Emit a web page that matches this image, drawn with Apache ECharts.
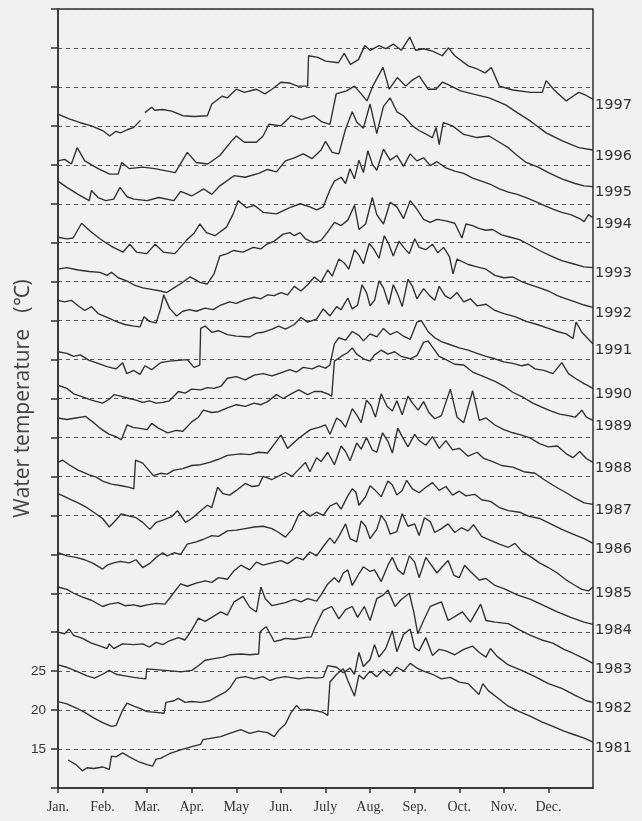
<!DOCTYPE html>
<html>
<head>
<meta charset="utf-8">
<script src="https://cdn.jsdelivr.net/npm/echarts@6/dist/echarts.min.js"></script>
<style>
  html, body { margin: 0; padding: 0; background: #f1f1f1; }
  #chart { width: 642px; height: 821px; }
</style>
</head>
<body>
<div id="chart"></div>
<script>
// Month names for the x axis (one tick at the start of each month)
const months = ['Jan.', 'Feb.', 'Mar.', 'Apr.', 'May', 'Jun.', 'July', 'Aug.', 'Sep.', 'Oct.', 'Nov.', 'Dec.'];
// Temperature tick labels printed on the left axis (they belong to the 1981 curve)
const tempTicks = [15, 20, 25];
// Each later year is shifted up by this many degrees
const yearStep = 5;
const years = [1981, 1982, 1983, 1984, 1985, 1986, 1987, 1988, 1989, 1990, 1991, 1992, 1993, 1994, 1995, 1996, 1997];

// Daily water temperature, sampled as [month position, degrees C]
const temp1981 = [[0.23,13.6],[0.4,13.0],[0.55,12.2],[0.65,12.6],[0.8,12.5],[1.0,12.7],[1.15,12.4],[1.2,14.1],[1.3,14.0],[1.45,14.5],[1.6,14.0],[1.8,13.4],[2.0,13.0],[2.12,12.8],[2.2,13.7],[2.3,13.8],[2.5,14.4],[2.75,14.9],[3.0,15.3],[3.2,15.6],[3.25,16.2],[3.45,16.4],[3.65,16.6],[3.85,17.0],[4.1,17.5],[4.3,17.0],[4.5,17.3],[4.7,17.1],[4.85,16.6],[4.95,17.4],[5.1,18.2],[5.22,19.6],[5.35,20.6],[5.45,20.0],[5.6,20.1],[5.8,19.9],[5.95,19.7],[6.05,19.3],[6.1,23.6],[6.25,24.6],[6.4,25.3],[6.5,23.8],[6.65,21.8],[6.75,24.5],[6.85,24.0],[7.0,25.0],[7.15,24.3],[7.3,25.2],[7.45,24.4],[7.6,25.5],[7.75,25.0],[7.9,26.0],[8.05,25.4],[8.2,25.0],[8.4,24.6],[8.6,24.0],[8.8,24.2],[9.0,23.6],[9.2,23.4],[9.44,22.0],[9.53,23.4],[9.65,22.5],[9.9,21.4],[10.1,20.5],[10.35,19.8],[10.6,19.2],[10.85,18.5],[11.1,17.9],[11.35,17.3],[11.55,16.9],[11.8,16.4],[12.0,15.9]];
const temp1982 = [[0,16.1],[0.2,15.8],[0.4,15.3],[0.6,14.7],[0.8,14.0],[1.0,13.4],[1.2,12.9],[1.3,13.0],[1.45,15.0],[1.55,15.9],[1.7,15.5],[1.85,15.2],[2.0,14.8],[2.2,14.7],[2.38,14.6],[2.42,16.0],[2.6,16.2],[2.7,16.5],[2.85,16.0],[3.0,16.1],[3.2,16.0],[3.4,16.2],[3.55,16.7],[3.75,17.3],[3.85,17.8],[4.0,19.1],[4.2,19.3],[4.4,19.0],[4.6,19.3],[4.75,18.8],[4.9,19.1],[5.1,19.3],[5.4,19.0],[5.6,19.2],[5.8,19.1],[5.95,19.2],[6.05,20.7],[6.25,20.5],[6.4,19.8],[6.55,20.4],[6.65,19.6],[6.75,22.4],[6.85,20.6],[7.0,21.5],[7.1,23.4],[7.2,21.8],[7.35,22.9],[7.5,25.2],[7.6,22.5],[7.75,24.7],[7.9,25.4],[8.0,23.0],[8.1,22.6],[8.25,24.3],[8.4,22.0],[8.55,22.8],[8.7,22.6],[8.9,22.1],[9.1,22.8],[9.3,23.2],[9.45,22.4],[9.6,21.8],[9.7,22.9],[9.85,21.9],[10.1,20.8],[10.4,20.1],[10.7,19.3],[11.0,18.4],[11.3,17.8],[11.6,16.9],[11.85,16.2],[12.0,16.0]];
const temp1983 = [[0,15.8],[0.2,15.5],[0.45,14.9],[0.65,14.4],[0.82,14.1],[1.0,14.6],[1.15,15.1],[1.3,14.6],[1.5,14.4],[1.7,14.2],[1.83,14.1],[1.97,14.0],[1.99,15.3],[2.2,15.2],[2.4,15.1],[2.6,15.0],[2.75,14.9],[3.0,15.1],[3.15,15.7],[3.3,16.4],[3.5,16.6],[3.7,16.8],[3.85,17.1],[4.1,17.2],[4.3,17.1],[4.5,17.2],[4.53,20.0],[4.6,20.4],[4.67,20.7],[4.85,18.8],[5.0,19.0],[5.1,19.2],[5.3,19.1],[5.5,19.3],[5.68,19.4],[5.77,20.7],[5.95,22.8],[6.14,23.3],[6.3,21.7],[6.45,22.9],[6.6,23.3],[6.72,21.9],[6.87,23.3],[7.0,21.5],[7.15,24.3],[7.3,24.8],[7.4,25.4],[7.56,23.3],[7.7,24.2],[7.88,25.0],[7.98,22.6],[8.07,19.8],[8.2,21.5],[8.35,23.3],[8.6,23.9],[8.75,21.5],[8.9,22.0],[9.07,22.6],[9.25,21.3],[9.48,23.6],[9.6,21.5],[9.8,21.3],[10.1,21.1],[10.35,20.3],[10.6,19.6],[10.85,19.0],[11.1,18.6],[11.35,17.8],[11.55,17.3],[11.8,16.6],[12.0,16.0]];
const temp1984 = [[0,15.0],[0.15,14.8],[0.25,15.4],[0.35,14.6],[0.55,14.2],[0.75,13.6],[0.95,13.2],[1.1,12.9],[1.15,13.5],[1.25,12.9],[1.45,13.5],[1.7,13.4],[1.9,13.5],[2.05,13.1],[2.2,13.7],[2.35,13.4],[2.5,13.9],[2.7,14.3],[2.85,14.0],[3.0,15.3],[3.15,16.8],[3.3,16.4],[3.45,16.9],[3.65,17.6],[3.8,17.2],[3.95,18.9],[4.15,19.6],[4.3,18.2],[4.45,17.6],[4.55,20.8],[4.65,19.3],[4.8,18.4],[4.95,18.6],[5.1,18.8],[5.3,19.2],[5.45,18.9],[5.6,19.3],[5.8,19.0],[5.9,19.8],[6.05,21.2],[6.2,22.0],[6.3,21.4],[6.4,22.6],[6.5,23.0],[6.6,21.0],[6.75,22.5],[6.85,23.4],[7.0,22.8],[7.1,23.0],[7.25,21.5],[7.4,23.6],[7.5,24.6],[7.62,23.0],[7.75,22.4],[7.88,24.8],[8.0,24.0],[8.1,22.0],[8.25,24.6],[8.35,23.8],[8.5,22.6],[8.62,23.4],[8.75,24.2],[8.88,22.3],[9.0,22.0],[9.12,23.6],[9.25,22.8],[9.45,21.7],[9.6,21.9],[9.8,21.0],[10.0,20.6],[10.3,19.8],[10.6,19.2],[10.9,18.4],[11.2,17.6],[11.5,16.9],[11.8,16.3],[12.0,16.0]];
const temp1985 = [[0,15.8],[0.2,15.5],[0.35,15.0],[0.55,14.5],[0.75,14.1],[1.0,13.3],[1.15,13.6],[1.35,13.8],[1.5,13.4],[1.7,13.5],[1.85,13.3],[2.0,13.5],[2.2,13.7],[2.4,13.6],[2.6,15.1],[2.75,16.2],[2.9,15.9],[3.1,16.3],[3.3,16.6],[3.45,16.4],[3.6,17.0],[3.8,16.8],[3.95,17.9],[4.1,18.6],[4.3,18.0],[4.45,19.0],[4.6,18.6],[4.8,18.9],[5.0,19.2],[5.15,18.8],[5.35,19.6],[5.5,19.3],[5.65,20.3],[5.8,19.8],[5.95,21.0],[6.1,22.1],[6.2,21.4],[6.3,22.3],[6.45,23.9],[6.55,22.0],[6.7,21.6],[6.8,24.3],[6.9,23.6],[7.0,22.0],[7.15,23.2],[7.25,25.0],[7.35,24.2],[7.45,22.6],[7.6,22.9],[7.72,25.2],[7.85,23.6],[8.0,23.9],[8.1,22.4],[8.22,24.7],[8.35,24.2],[8.45,22.8],[8.6,23.3],[8.75,23.9],[8.9,22.8],[9.05,23.4],[9.2,23.0],[9.32,23.8],[9.5,22.3],[9.7,21.8],[9.9,21.3],[10.1,20.9],[10.25,21.4],[10.4,20.4],[10.6,19.7],[10.8,18.9],[11.0,18.3],[11.2,17.6],[11.4,16.7],[11.6,16.0],[11.75,15.5],[11.9,15.3],[12.0,15.8]];
const temp1986 = [[0,15.2],[0.2,14.8],[0.4,14.6],[0.6,14.3],[0.8,13.8],[1.0,13.1],[1.1,13.6],[1.25,13.9],[1.4,14.1],[1.6,13.9],[1.75,14.3],[1.9,13.3],[2.05,13.8],[2.2,14.6],[2.35,15.2],[2.45,14.8],[2.6,15.2],[2.75,15.0],[2.9,16.3],[3.1,16.6],[3.25,16.9],[3.45,17.4],[3.6,17.3],[3.8,18.0],[4.0,18.1],[4.2,18.3],[4.4,18.5],[4.6,18.6],[4.8,18.3],[4.95,17.8],[5.1,17.2],[5.25,18.2],[5.4,20.1],[5.5,20.6],[5.65,19.9],[5.8,20.4],[5.95,20.0],[6.1,21.2],[6.25,21.6],[6.35,20.8],[6.5,22.5],[6.6,23.4],[6.68,23.0],[6.75,21.3],[6.9,22.4],[7.0,23.8],[7.1,23.3],[7.25,22.4],[7.4,24.4],[7.5,23.9],[7.6,22.6],[7.72,23.2],[7.82,24.5],[7.95,23.4],[8.1,22.9],[8.25,23.6],[8.4,24.2],[8.55,23.2],[8.7,23.7],[8.85,22.6],[9.0,23.1],[9.15,22.5],[9.35,22.7],[9.5,22.0],[9.7,21.8],[9.9,21.0],[10.1,20.6],[10.35,20.4],[10.55,19.9],[10.8,19.6],[11.05,18.9],[11.3,18.2],[11.55,17.6],[11.8,17.0],[12.0,16.4]];
const temp1987 = [[0,17.8],[0.15,17.4],[0.3,17.0],[0.45,16.6],[0.62,16.1],[0.8,15.4],[1.0,14.6],[1.15,13.5],[1.3,14.4],[1.42,15.2],[1.6,14.9],[1.75,14.7],[1.9,14.1],[2.06,13.2],[2.2,14.1],[2.35,14.4],[2.54,14.8],[2.68,15.6],[2.86,14.1],[3.0,14.6],[3.2,15.6],[3.35,16.3],[3.45,16.0],[3.58,18.6],[3.7,17.8],[3.85,17.6],[4.0,18.2],[4.2,19.1],[4.35,18.7],[4.5,18.8],[4.6,20.0],[4.8,19.6],[5.0,20.2],[5.1,20.5],[5.25,20.0],[5.4,20.9],[5.55,21.8],[5.65,20.6],[5.8,22.4],[5.9,21.9],[6.05,23.1],[6.2,21.5],[6.35,23.9],[6.45,23.2],[6.55,22.0],[6.7,24.3],[6.8,23.5],[6.92,25.0],[7.05,23.4],[7.15,23.1],[7.28,25.6],[7.4,24.5],[7.5,23.0],[7.62,26.2],[7.72,25.1],[7.85,23.8],[8.0,25.4],[8.1,24.6],[8.25,24.0],[8.4,25.1],[8.55,23.6],[8.7,24.6],[8.85,23.4],[9.0,23.6],[9.2,22.6],[9.4,23.1],[9.55,22.3],[9.75,21.9],[9.95,21.4],[10.2,21.2],[10.45,20.6],[10.7,20.4],[10.9,19.6],[11.15,18.7],[11.4,17.9],[11.6,17.2],[11.8,16.6],[12.0,16.4]];
const temp1988 = [[0,16.8],[0.1,17.1],[0.25,16.5],[0.45,15.8],[0.7,15.2],[0.86,14.9],[1.0,14.4],[1.2,14.0],[1.42,13.8],[1.6,13.6],[1.7,13.4],[1.74,17.1],[1.9,16.7],[2.14,15.1],[2.3,15.4],[2.45,15.3],[2.6,15.8],[2.8,16.0],[3.0,16.4],[3.2,16.5],[3.4,16.8],[3.6,17.2],[3.8,17.7],[4.1,17.9],[4.3,17.8],[4.5,18.1],[4.7,18.0],[4.86,19.2],[5.0,20.3],[5.15,18.6],[5.4,19.9],[5.66,21.0],[5.85,21.3],[6.0,21.6],[6.1,20.4],[6.25,22.5],[6.35,22.1],[6.45,21.3],[6.6,23.7],[6.7,22.9],[6.8,21.9],[6.92,24.8],[7.02,24.1],[7.12,22.6],[7.25,25.6],[7.38,24.0],[7.5,23.4],[7.6,24.7],[7.72,22.9],[7.85,25.3],[7.95,24.4],[8.08,23.5],[8.2,24.6],[8.32,23.2],[8.45,22.4],[8.6,22.8],[8.8,26.2],[8.95,22.6],[9.1,21.9],[9.3,26.0],[9.45,22.2],[9.6,22.5],[9.8,21.6],[10.0,21.0],[10.2,20.6],[10.4,20.3],[10.6,19.9],[10.8,19.2],[11.0,18.8],[11.2,18.9],[11.4,17.9],[11.55,17.4],[11.7,18.2],[11.85,17.3],[12.0,16.8]];
const temp1989 = [[0,17.5],[0.2,17.3],[0.4,17.5],[0.62,17.7],[0.8,16.9],[0.94,16.2],[1.15,15.4],[1.3,15.1],[1.42,14.7],[1.55,16.6],[1.68,16.3],[1.8,16.2],[2.0,16.0],[2.1,16.8],[2.25,16.2],[2.46,15.6],[2.65,15.9],[2.8,15.8],[3.0,17.0],[3.15,17.6],[3.26,18.5],[3.45,18.2],[3.6,18.3],[3.8,18.8],[4.0,19.2],[4.2,19.0],[4.4,19.4],[4.55,19.2],[4.7,19.6],[4.9,20.5],[5.05,20.0],[5.26,20.7],[5.4,21.1],[5.6,20.5],[5.75,20.9],[5.9,20.9],[6.05,20.6],[6.14,20.3],[6.2,24.8],[6.35,25.4],[6.5,25.9],[6.6,26.5],[6.7,25.7],[6.85,25.1],[7.0,24.8],[7.1,25.6],[7.25,26.2],[7.4,25.7],[7.55,26.0],[7.7,25.4],[7.9,25.1],[8.05,25.5],[8.2,27.2],[8.3,27.4],[8.4,26.6],[8.55,25.4],[8.7,25.0],[8.9,24.4],[9.1,24.3],[9.3,23.4],[9.55,22.8],[9.8,22.2],[10.0,21.6],[10.2,20.8],[10.45,20.1],[10.65,19.4],[10.85,18.9],[11.05,18.4],[11.25,18.0],[11.45,17.8],[11.6,17.6],[11.75,18.5],[11.85,17.6],[12.0,17.2]];
const temp1990 = [[0,16.7],[0.2,16.3],[0.35,15.6],[0.55,15.2],[0.75,14.8],[1.0,14.4],[1.15,14.9],[1.26,15.5],[1.4,15.3],[1.6,15.0],[1.75,14.8],[1.9,14.5],[2.05,14.7],[2.2,14.4],[2.35,14.5],[2.5,14.7],[2.7,15.9],[2.85,15.7],[3.0,16.2],[3.2,16.1],[3.35,16.4],[3.5,16.3],[3.66,16.6],[3.8,17.6],[4.0,17.8],[4.2,17.4],[4.4,18.0],[4.6,18.2],[4.8,17.9],[5.0,18.3],[5.2,18.7],[5.35,18.4],[5.5,19.0],[5.7,18.8],[5.85,19.2],[6.0,18.9],[6.1,19.3],[6.2,22.0],[6.3,22.8],[6.45,22.5],[6.6,23.6],[6.75,23.1],[6.85,22.4],[7.0,23.3],[7.15,22.9],[7.3,24.0],[7.45,23.2],[7.6,23.6],[7.75,23.0],[7.9,22.6],[8.05,24.8],[8.15,25.0],[8.3,23.6],[8.45,22.8],[8.6,22.3],[8.8,21.9],[9.0,21.5],[9.2,21.2],[9.4,20.8],[9.6,20.4],[9.8,20.1],[10.0,19.7],[10.2,19.5],[10.4,19.2],[10.55,19.4],[10.7,18.8],[10.9,18.6],[11.1,18.2],[11.3,19.6],[11.45,18.2],[11.6,17.6],[11.8,16.9],[12.0,16.3]];
const temp1991 = [[0,16.0],[0.2,15.8],[0.35,15.4],[0.5,15.6],[0.7,14.9],[0.9,14.5],[1.1,14.1],[1.3,13.8],[1.45,14.6],[1.54,13.2],[1.7,13.6],[1.84,13.1],[1.95,14.2],[2.1,13.7],[2.3,14.6],[2.5,14.8],[2.7,14.9],[2.9,15.0],[3.05,14.0],[3.18,14.3],[3.2,19.0],[3.3,19.3],[3.45,18.5],[3.6,18.7],[3.8,18.2],[4.0,18.0],[4.3,17.9],[4.45,18.4],[4.6,18.5],[4.8,18.9],[4.95,19.3],[5.1,18.9],[5.3,19.5],[5.45,20.4],[5.6,19.8],[5.8,20.2],[5.95,21.5],[6.1,20.6],[6.25,21.8],[6.35,21.4],[6.5,22.9],[6.6,21.5],[6.72,22.0],[6.82,24.6],[6.92,23.6],[7.0,21.9],[7.1,22.6],[7.2,25.1],[7.3,24.2],[7.42,22.1],[7.52,24.6],[7.62,23.4],[7.72,21.8],[7.85,25.3],[7.95,24.4],[8.05,22.8],[8.2,24.1],[8.32,23.3],[8.45,22.6],[8.55,24.4],[8.68,23.2],[8.8,22.8],[8.95,23.6],[9.1,22.4],[9.25,22.8],[9.4,21.9],[9.6,22.1],[9.8,21.3],[10.0,20.9],[10.25,20.5],[10.5,19.9],[10.75,19.5],[11.0,19.0],[11.2,18.6],[11.4,18.3],[11.55,17.7],[11.62,19.8],[11.75,18.5],[11.9,17.6],[12.0,17.0]];
const temp1992 = [[0,17.6],[0.15,17.4],[0.3,17.6],[0.45,16.9],[0.6,16.3],[0.75,16.8],[0.9,15.9],[1.1,15.4],[1.3,14.9],[1.5,14.5],[1.7,14.3],[1.84,14.2],[1.93,15.5],[2.05,14.9],[2.2,14.7],[2.3,16.5],[2.37,18.3],[2.5,16.6],[2.66,15.6],[2.8,16.2],[2.95,16.4],[3.1,16.2],[3.3,16.6],[3.48,16.4],[3.65,17.0],[3.85,17.4],[4.0,17.2],[4.2,17.7],[4.4,18.0],[4.55,17.8],[4.7,18.3],[4.85,18.2],[5.0,18.6],[5.15,18.3],[5.3,19.4],[5.45,18.8],[5.6,19.6],[5.75,20.6],[5.9,19.9],[6.05,21.5],[6.15,20.7],[6.3,22.9],[6.42,22.4],[6.52,21.6],[6.65,24.1],[6.75,23.4],[6.85,22.3],[6.98,24.9],[7.08,24.2],[7.2,23.0],[7.32,25.9],[7.42,24.8],[7.52,23.3],[7.65,25.2],[7.75,24.4],[7.88,23.6],[8.0,25.5],[8.1,24.4],[8.25,24.1],[8.4,24.8],[8.52,23.7],[8.65,24.4],[8.78,23.2],[8.86,21.0],[8.95,22.9],[9.2,22.2],[9.4,21.9],[9.6,21.6],[9.8,20.8],[10.0,20.5],[10.2,20.6],[10.4,20.0],[10.6,19.6],[10.8,19.2],[11.0,18.8],[11.2,18.2],[11.4,17.8],[11.6,17.4],[11.8,17.0],[12.0,16.7]];
const temp1993 = [[0,16.6],[0.2,16.8],[0.45,16.5],[0.7,16.3],[0.94,16.2],[1.1,15.8],[1.2,16.2],[1.35,15.5],[1.54,15.1],[1.7,14.6],[1.9,14.2],[2.1,14.0],[2.3,13.8],[2.44,13.6],[2.6,14.2],[2.74,14.7],[2.96,15.6],[3.1,15.2],[3.18,14.9],[3.35,14.7],[3.5,16.0],[3.63,18.3],[3.8,18.6],[3.93,19.0],[4.15,18.8],[4.38,19.4],[4.55,19.2],[4.68,19.8],[4.85,20.2],[5.05,21.1],[5.2,21.3],[5.3,20.9],[5.43,21.3],[5.55,20.5],[5.73,20.0],[5.9,20.3],[6.05,21.4],[6.2,22.6],[6.35,22.2],[6.5,22.9],[6.65,24.8],[6.75,21.7],[6.9,22.4],[7.05,25.8],[7.15,23.6],[7.3,22.4],[7.45,25.2],[7.6,24.6],[7.75,23.1],[7.9,25.4],[8.05,24.3],[8.2,23.0],[8.35,22.6],[8.5,23.0],[8.7,22.8],[8.9,22.5],[9.06,20.6],[9.15,22.4],[9.3,22.2],[9.45,21.8],[9.6,21.6],[9.75,21.7],[9.95,21.0],[10.15,20.7],[10.35,20.4],[10.55,19.8],[10.8,19.0],[11.05,18.3],[11.3,17.7],[11.55,17.3],[11.8,16.9],[12.0,16.8]];
const temp1994 = [[0,15.7],[0.2,15.5],[0.34,15.6],[0.53,17.5],[0.72,16.5],[0.94,15.5],[1.1,14.9],[1.24,14.4],[1.46,13.8],[1.61,14.8],[1.76,13.8],[1.99,13.6],[2.18,14.8],[2.36,13.8],[2.62,13.6],[2.88,15.3],[3.05,16.2],[3.18,17.4],[3.33,16.3],[3.52,15.9],[3.78,17.0],[3.93,18.7],[4.04,20.4],[4.23,19.5],[4.4,19.8],[4.6,18.9],[4.9,18.7],[5.2,19.5],[5.43,20.0],[5.65,19.6],[5.8,19.2],[5.95,19.6],[6.1,21.8],[6.2,22.9],[6.35,23.4],[6.45,22.6],[6.55,24.5],[6.65,23.2],[6.75,25.6],[6.85,24.0],[6.95,26.8],[7.05,25.1],[7.15,24.3],[7.3,27.0],[7.45,25.6],[7.6,26.2],[7.75,24.8],[7.9,26.4],[8.05,25.5],[8.2,25.9],[8.35,24.9],[8.5,25.4],[8.7,24.6],[8.9,24.2],[9.1,23.9],[9.3,23.3],[9.5,22.9],[9.7,22.5],[9.9,21.9],[10.1,21.5],[10.3,21.2],[10.5,20.8],[10.7,20.3],[10.9,19.8],[11.1,19.3],[11.3,18.9],[11.5,18.6],[11.7,18.1],[11.8,17.7],[11.9,18.6],[12.0,18.2]];
const temp1995 = [[0,17.9],[0.2,17.1],[0.45,16.2],[0.7,15.4],[0.75,16.7],[0.9,15.8],[1.07,15.4],[1.25,15.6],[1.39,17.1],[1.55,15.9],[1.7,15.6],[2.0,15.4],[2.26,15.8],[2.6,15.4],[2.75,16.6],[3.0,16.0],[3.27,16.9],[3.45,16.2],[3.63,17.3],[3.95,18.6],[4.2,18.4],[4.5,18.9],[4.7,19.4],[4.9,19.1],[5.1,20.5],[5.3,20.9],[5.5,21.4],[5.7,20.8],[5.9,21.9],[6.0,23.0],[6.15,21.6],[6.3,21.4],[6.45,24.6],[6.6,26.8],[6.7,25.5],[6.85,24.7],[7.0,27.8],[7.15,24.0],[7.3,27.5],[7.45,28.6],[7.6,26.8],[7.75,26.3],[7.95,25.0],[8.1,24.4],[8.4,23.5],[8.48,24.8],[8.55,22.6],[8.64,25.4],[8.85,25.0],[9.1,23.9],[9.4,23.5],[9.67,23.7],[9.9,22.9],[10.1,22.2],[10.3,21.2],[10.5,20.3],[10.77,19.7],[11.0,19.0],[11.3,18.2],[11.6,17.6],[11.8,17.3],[12.0,17.2]];
const temp1996 = [[0,15.5],[0.15,15.7],[0.3,15.1],[0.43,17.2],[0.6,15.5],[0.9,14.5],[1.16,13.8],[1.35,13.8],[1.43,15.3],[1.6,14.5],[1.9,14.7],[2.17,14.5],[2.63,14.0],[2.9,16.6],[3.1,15.3],[3.36,15.1],[3.63,16.2],[3.9,18.1],[4.0,18.7],[4.18,17.9],[4.45,17.9],[4.6,18.7],[4.73,20.2],[5.0,20.0],[5.23,21.3],[5.46,20.8],[5.74,21.3],[5.92,20.5],[6.1,20.2],[6.24,24.1],[6.47,24.5],[6.65,25.1],[6.8,24.1],[6.93,23.2],[7.06,25.1],[7.29,27.5],[7.43,24.7],[7.61,26.2],[7.8,25.1],[7.93,25.8],[8.1,26.4],[8.3,24.7],[8.48,24.7],[8.62,25.6],[8.75,25.3],[9.03,24.5],[9.3,24.1],[9.67,23.6],[10.04,22.7],[10.3,21.7],[10.6,20.6],[10.95,19.1],[11.3,18.1],[11.68,17.2],[12.0,16.9]];
// 1997 has a short break in the record at the end of February
const temp1997 = [[0,16.5],[0.25,15.9],[0.5,15.4],[0.75,15.0],[1.0,14.4],[1.16,13.7],[1.3,14.3],[1.4,14.1],[1.55,14.5],[1.7,14.8],[1.85,15.7],null,[1.95,16.7],[2.1,17.4],[2.17,17.0],[2.35,17.1],[2.55,16.9],[2.8,16.3],[3.05,16.2],[3.35,16.3],[3.45,17.8],[3.68,18.8],[3.8,18.6],[4.0,19.7],[4.18,19.3],[4.45,19.7],[4.64,19.1],[4.8,19.7],[5.0,20.6],[5.2,20.5],[5.37,20.1],[5.6,20.1],[5.62,24.0],[5.83,23.8],[6.0,23.3],[6.29,23.1],[6.42,24.3],[6.56,22.9],[6.74,23.5],[6.88,25.3],[7.0,24.7],[7.2,25.3],[7.35,24.9],[7.52,25.5],[7.7,24.7],[7.89,26.4],[8.02,24.7],[8.2,24.9],[8.4,24.6],[8.62,24.0],[8.76,25.0],[8.9,24.0],[9.2,22.7],[9.4,22.3],[9.58,21.8],[9.72,22.5],[9.9,20.1],[10.2,19.6],[10.6,19.3],[10.86,19.3],[10.95,20.8],[11.13,19.6],[11.4,18.2],[11.55,18.8],[11.68,19.3],[11.85,18.9],[12.0,18.4]];

const yearTemps = [temp1981, temp1982, temp1983, temp1984, temp1985, temp1986, temp1987, temp1988, temp1989,
                   temp1990, temp1991, temp1992, temp1993, temp1994, temp1995, temp1996, temp1997];

const ink = '#2f2f2f';

// One line per year, lifted by its offset so the years stack upward
const series = years.map((yr, i) => {
  const shift = i * yearStep;
  return {
    name: String(yr),
    type: 'line',
    showSymbol: false,
    symbol: 'none',
    connectNulls: false,
    silent: true,
    lineStyle: { color: ink, width: 1.35 },
    endLabel: {
      show: true,
      formatter: '{a}',
      color: '#333',
      fontFamily: 'DejaVu Sans',
      fontSize: 14.5,
      distance: 2,
      offset: [0, 6]
    },
    data: yearTemps[i].map(p => (p === null ? [null, null] : [p[0], p[1] + shift]))
  };
});

const chart = echarts.init(document.getElementById('chart'), null, { renderer: 'canvas' });
chart.setOption({
  animation: false,
  backgroundColor: '#f1f1f1',
  grid: { left: 58, right: 49, top: 9, bottom: 33, containLabel: false, outerBoundsMode: 'none',
          show: true, borderColor: ink, borderWidth: 1.5, backgroundColor: 'transparent' },
  xAxis: {
    type: 'value',
    min: 0,
    max: 12,
    interval: 1,
    axisLine: { show: true, lineStyle: { color: ink, width: 1.5 } },
    axisTick: { show: true, length: 5, inside: false, lineStyle: { color: ink, width: 1.5 },
                customValues: months.map((_, i) => i) },
    axisLabel: { show: true, margin: 12, color: '#333', fontFamily: 'Liberation Serif', fontSize: 14,
                 customValues: months.map((_, i) => i),
                 formatter: v => months[v] || '' },
    splitLine: { show: false }
  },
  yAxis: {
    type: 'value',
    min: 10,
    max: 110,
    interval: 5,
    name: 'Water temperature   (\u2103)',
    nameLocation: 'middle',
    nameGap: 24,
    nameMoveOverlap: false,
    nameRotate: 90,
    nameTextStyle: { color: '#444', fontFamily: 'Open Sans', fontSize: 21 },
    axisLine: { show: true, lineStyle: { color: ink, width: 1.5 } },
    axisTick: { show: true, length: 7, lineStyle: { color: ink, width: 1.5 } },
    axisLabel: { show: true, margin: 12, color: '#333', fontFamily: 'Liberation Sans', fontSize: 13.5,
                 formatter: v => (tempTicks.includes(v) ? String(v) : '') },
    splitLine: { show: true, lineStyle: { color: '#555', type: [4, 4], width: 1 } }
  },
  series: series
});
</script>
</body>
</html>
